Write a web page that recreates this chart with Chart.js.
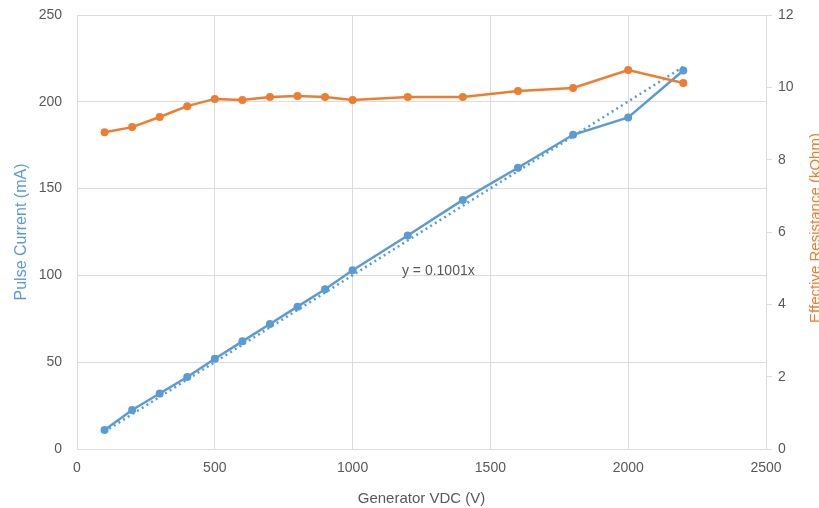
<!DOCTYPE html>
<html>
<head>
<meta charset="utf-8">
<script src="https://cdn.jsdelivr.net/npm/chart.js@4/dist/chart.umd.min.js"></script>
<style>
  html, body { margin: 0; padding: 0; background: #ffffff; overflow: hidden; }
  #wrap { position: relative; width: 819px; height: 508px; }
</style>
</head>
<body>
<div id="wrap"><canvas id="c"></canvas></div>
<script>
// ---- data ----
const voltages = [100, 200, 300, 400, 500, 600, 700, 800, 900, 1000, 1200, 1400, 1600, 1800, 2000, 2200];
const pulseCurrent = [11, 22.5, 32, 41.5, 52, 62, 72, 82, 92, 103, 123, 143.5, 162, 181, 191, 218];
const effResistance = [8.76, 8.9, 9.18, 9.48, 9.68, 9.65, 9.73, 9.76, 9.73, 9.65, 9.73, 9.73, 9.9, 9.98, 10.48, 10.12];
const trendX = [100, 2200];
const trendY = [10.0, 220.2];
const trendLabel = 'y = 0.1001x';
const trendLabelAt = { x: 1179, y: 102.5 };
const xTicks = [0, 500, 1000, 1500, 2000, 2500];
const leftTicks = [0, 50, 100, 150, 200, 250];
const rightTicks = [0, 2, 4, 6, 8, 10, 12];

const BLUE = '#5B9BD5';
const ORANGE = '#ED7D31';
const GRID = '#dcdcdc';
const TEXT = '#595959';
const FONT = "'Liberation Sans', Arial, sans-serif";
const NARROW = "'Liberation Sans Narrow', 'Liberation Sans', Arial, sans-serif";

const pts = (xs, ys) => xs.map((x, i) => ({ x: x, y: ys[i] }));
const plain = (v) => String(v);

const extraText = {
  id: 'extraText',
  afterDatasetsDraw(chart) {
    const ctx = chart.ctx;
    const xs = chart.scales.x, ys = chart.scales.y;
    ctx.save();
    ctx.font = '14px ' + FONT;
    ctx.fillStyle = TEXT;
    ctx.textAlign = 'left';
    ctx.textBaseline = 'middle';
    ctx.fillText(trendLabel, xs.getPixelForValue(trendLabelAt.x), ys.getPixelForValue(trendLabelAt.y));
    ctx.restore();

    // right axis title (reads bottom-to-top like the reference, clipped by the edge)
    const ca = chart.chartArea;
    ctx.save();
    ctx.font = '15px ' + FONT;
    ctx.fillStyle = ORANGE;
    ctx.textAlign = 'center';
    ctx.textBaseline = 'middle';
    ctx.translate(816, (ca.top + ca.bottom) / 2 - 4);
    ctx.rotate(-Math.PI / 2);
    ctx.fillText('Effective Resistance (kOhm)', 0, 0);
    ctx.restore();
  }
};

new Chart(document.getElementById('c'), {
  type: 'line',
  data: {
    datasets: [
      {
        label: 'Pulse Current',
        data: pts(voltages, pulseCurrent),
        yAxisID: 'y',
        borderColor: BLUE,
        backgroundColor: BLUE,
        borderWidth: 2.5,
        pointRadius: 4,
        pointBorderWidth: 0,
        tension: 0,
        order: 2
      },
      {
        label: 'Linear (Pulse Current)',
        data: pts(trendX, trendY),
        yAxisID: 'y',
        borderColor: BLUE,
        borderWidth: 2.5,
        borderDash: [2, 3.5],
        pointRadius: 0,
        tension: 0,
        order: 1
      },
      {
        label: 'Effective Resistance',
        data: pts(voltages, effResistance),
        yAxisID: 'y1',
        borderColor: ORANGE,
        backgroundColor: ORANGE,
        borderWidth: 2.5,
        pointRadius: 4,
        pointBorderWidth: 0,
        tension: 0,
        order: 0
      }
    ]
  },
  options: {
    responsive: true,
    maintainAspectRatio: false,
    animation: false,
    layout: { padding: { top: 15, left: 0, right: 0, bottom: 0 } },
    plugins: { legend: { display: false }, tooltip: { enabled: false } },
    scales: {
      x: {
        type: 'linear',
        min: 0, max: 2500,
        afterBuildTicks: (s) => { s.ticks = xTicks.map(v => ({ value: v })); },
        afterFit: (s) => { s.height = 59; },
        grid: { color: GRID, drawTicks: false, lineWidth: 1 },
        border: { color: GRID, width: 1 },
        ticks: { color: TEXT, font: { family: FONT, size: 14 }, padding: 11, maxRotation: 0, callback: plain },
        title: { display: true, text: 'Generator VDC (V)', color: TEXT, font: { family: NARROW, size: 15 }, padding: { top: 2, bottom: 0 } }
      },
      y: {
        position: 'left',
        min: 0, max: 250,
        afterBuildTicks: (s) => { s.ticks = leftTicks.map(v => ({ value: v })); },
        afterFit: (s) => { s.width = 77; },
        grid: { color: GRID, drawTicks: true, tickLength: 15, tickColor: 'rgba(0,0,0,0)', lineWidth: 1 },
        border: { color: GRID, width: 1 },
        ticks: { color: TEXT, font: { family: FONT, size: 14 }, padding: 0, callback: plain },
        title: { display: true, text: 'Pulse Current (mA)', color: BLUE, font: { family: FONT, size: 16 }, padding: { top: 12, bottom: 0 } }
      },
      y1: {
        position: 'right',
        min: 0, max: 12,
        afterBuildTicks: (s) => { s.ticks = rightTicks.map(v => ({ value: v })); },
        afterFit: (s) => { s.width = 53; },
        grid: { drawOnChartArea: false, drawTicks: true, tickLength: 6, color: GRID },
        border: { color: GRID, width: 1 },
        ticks: { color: TEXT, font: { family: FONT, size: 14 }, padding: 6, callback: plain },
        title: { display: false }
      }
    }
  },
  plugins: [extraText]
});
</script>
</body>
</html>
